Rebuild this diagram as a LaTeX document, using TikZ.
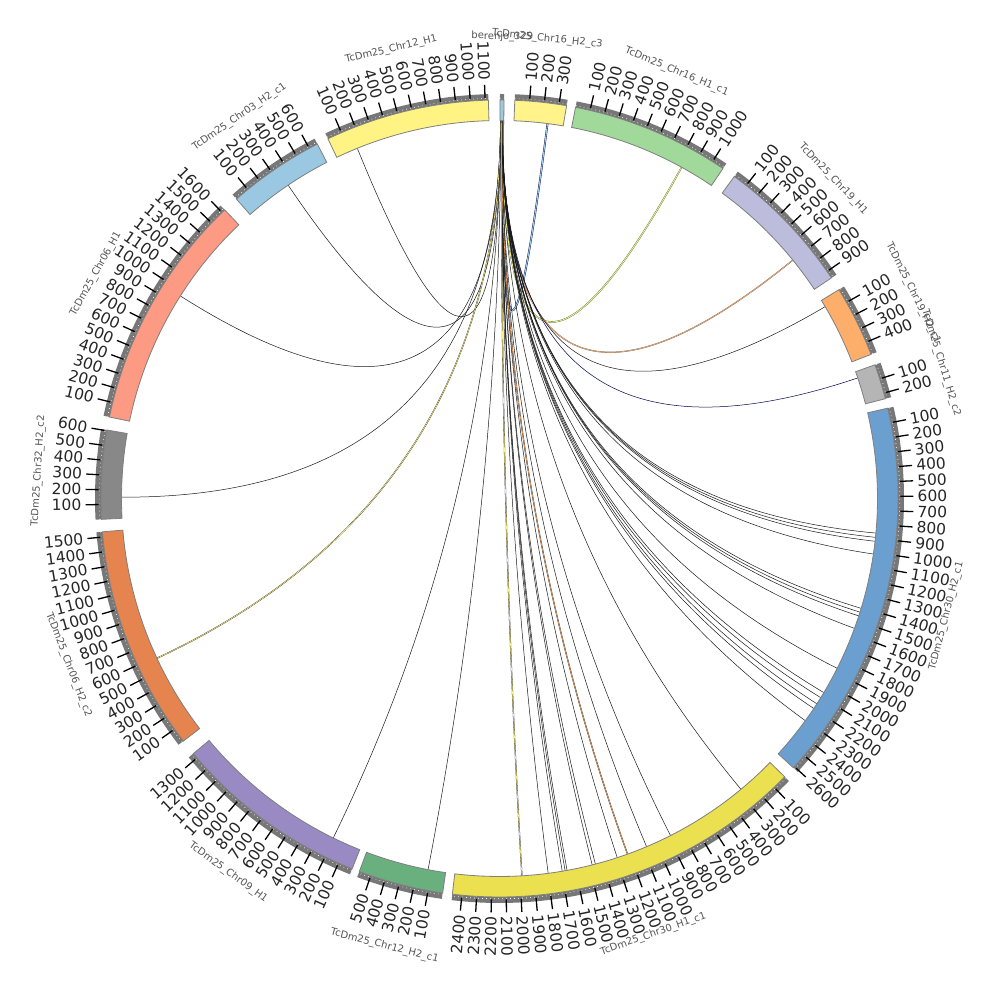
\documentclass[tikz,border=0pt]{standalone}
\usepackage{fontspec}
\setmainfont{DejaVu Sans}
\definecolor{bandgrey}{HTML}{777777}
\definecolor{segline}{HTML}{7F7F7F}
\definecolor{namegrey}{HTML}{555555}
\definecolor{beren}{HTML}{9ECAE1}
\definecolor{cA}{HTML}{FFF38A}
\definecolor{cB}{HTML}{A1D99B}
\definecolor{cC}{HTML}{BCBDDC}
\definecolor{cD}{HTML}{FDAE6B}
\definecolor{cE}{HTML}{B5B5B5}
\definecolor{cF}{HTML}{6A9FCF}
\definecolor{cG}{HTML}{EBE050}
\definecolor{cH}{HTML}{6AB07F}
\definecolor{cI}{HTML}{9A8AC4}
\definecolor{cJ}{HTML}{E6844F}
\definecolor{cK}{HTML}{888888}
\definecolor{cL}{HTML}{FC9A84}
\definecolor{cM}{HTML}{9AC8E3}
\definecolor{cN}{HTML}{FFF384}
\tikzset{
  segbox/.style={draw=segline, line width=0.8},
  tickline/.style={draw=black, line width=1.3},
  ticklab/.style={inner sep=0pt, font=\fontsize{15.5}{15.5}\selectfont, text=black!85},
  segname/.style={inner sep=0pt, font=\fontsize{10}{10}\selectfont, text=namegrey},
  lk/.style={draw=black!90, line width=0.5},
  lkc/.style={draw=black!85, line width=0.3, double=#1, double distance=0.6},
}
\def\sc{0.0213}
\def\rin{378}
\def\rout{398.5}
\def\rg{404.5}
\newcommand\segbody[3]{%
  \fill[bandgrey] ({90-#1}:\rout) -- ({90-#1}:\rg) arc[start angle={90-#1}, end angle={90-#2}, radius=\rg] -- ({90-#2}:\rout) arc[start angle={90-#2}, end angle={90-#1}, radius=\rout] -- cycle;
  \draw[white, line width=0.8, dash pattern=on 0.6 off 3.4] ({90-#1}:400.3) arc[start angle={90-#1}, end angle={90-#2}, radius=400.3];
  \draw[segbox, fill=#3] ({90-#1}:\rin) arc[start angle={90-#1}, end angle={90-#2}, radius=\rin] -- ({90-#2}:\rout) arc[start angle={90-#2}, end angle={90-#1}, radius=\rout] -- cycle;
}
\newcommand\segname[4]{%
  \pgfmathsetmacro\tm{(#1+#2)/2}
  \pgfmathtruncatemacro\bot{(\tm>90 && \tm<270) ? 1 : 0}
  \ifnum\bot=1
    \pgfmathsetmacro\rot{180-\tm}
  \else
    \pgfmathsetmacro\rot{-\tm}
  \fi
  \node[segname, rotate=\rot] (name-#4) at ({90-\tm}:462) {#3};
}
\newcommand\segm[6]{%
  \segbody{#1}{#2}{#3}
  \foreach \v in {100,200,...,#4} {
    \pgfmathsetmacro\th{#1+\v*\sc}
    \draw[tickline] ({90-\th}:401) -- ({90-\th}:414);
    \pgfmathtruncatemacro\rgt{(\th>0 && \th<180) ? 1 : 0}
    \ifnum\rgt=1
      \node[ticklab, anchor=west, rotate={90-\th}] (t-#6-\v) at ({90-\th}:418) {\v};
    \else
      \node[ticklab, anchor=east, rotate={270-\th}] (t-#6-\v) at ({90-\th}:418) {\v};
    \fi
  }
  \segname{#1}{#2}{#5}{#6}
}
\newcommand\lnk[3]{%
  \draw[#3] ({90-#1}:\rin) .. controls ({90-#1}:126) and ({90-#2}:126) .. ({90-#2}:\rin);
}
\begin{document}
\begin{tikzpicture}[x=1pt,y=1pt]
\useasboundingbox (0,0) rectangle (1000,1000);
\fill[white] (0,0) rectangle (1000,1000);
\begin{scope}[shift={(499.5,501.5)}]
% links
\lnk{0.15}{-22.1}{lk}
\lnk{0.15}{-34.0}{lk}
\lnk{0.15}{-57.6}{lk}
\lnk{0.15}{-89.8}{lk}
\lnk{0.2}{245.0}{lkc=cN}
\lnk{0.2}{206.1}{lk}
\lnk{0.25}{190.9}{lk}
\lnk{0.55}{7.3}{draw=black!70!blue, line width=0.35, double=beren, double distance=1.1}
\lnk{0.45}{28.8}{draw=cH!60!black, line width=0.35, double=cN, double distance=0.8}
\lnk{0.45}{50.9}{draw=black!60, line width=0.3, double=cD, double distance=0.6}
\lnk{0.45}{59.5}{lk}
\lnk{0.45}{71.4}{draw=black!70!blue, line width=0.5}
\foreach \t in {95.25,95.9,96.5,98.45,106.9,107.5,108.1,110.1,116.7,120.9,121.8,122.9,123.75,126} {
  \lnk{0.4}{\t}{lk}
}
\foreach \t in {140.3,153.1,157.1,161.85,165.3,165.8,169.7,170.0,170.45,172.6} {
  \lnk{0.3}{\t}{lk}
}
\lnk{0.3}{160.2}{lkc=cD}
\lnk{0.35}{176.6}{lkc=cN}
% segments
\segm{-25.5}{-1.6}{cN}{1100}{TcDm25\_Chr12\_H1}{s1}
\segbody{0.07}{0.65}{beren}
\segname{0.07}{0.65}{berenjo\_329}{s0}
\segm{2.2}{9.7}{cA}{300}{TcDm25\_Chr16\_H2\_c3}{s2}
\segm{11.0}{34.1}{cB}{1000}{TcDm25\_Chr16\_H1\_c1}{s3}
\segm{36.1}{56.4}{cC}{900}{TcDm25\_Chr19\_H1}{s4}
\segm{58.4}{68.8}{cD}{400}{TcDm25\_Chr19\_H2\_c1}{s5}
\segm{70.4}{75.5}{cE}{200}{TcDm25\_Chr11\_H2\_c2}{s6}
\segm{76.9}{132.5}{cF}{2600}{TcDm25\_Chr30\_H2\_c1}{s7}
\segm{134.3}{186.8}{cG}{2400}{TcDm25\_Chr30\_H1\_c1}{s8}
\segm{188.2}{200.6}{cH}{500}{TcDm25\_Chr12\_H2\_c1}{s9}
\segm{201.7}{230.2}{cI}{1300}{TcDm25\_Chr09\_H1}{s10}
\segm{232.5}{265.2}{cJ}{1500}{TcDm25\_Chr06\_H2\_c2}{s11}
\segm{267.0}{279.9}{cK}{600}{TcDm25\_Chr32\_H2\_c2}{s12}
\segm{281.8}{316.4}{cL}{1600}{TcDm25\_Chr06\_H1}{s13}
\segm{318.7}{332.8}{cM}{600}{TcDm25\_Chr03\_H2\_c1}{s14}
\end{scope}
\end{tikzpicture}
\end{document}
